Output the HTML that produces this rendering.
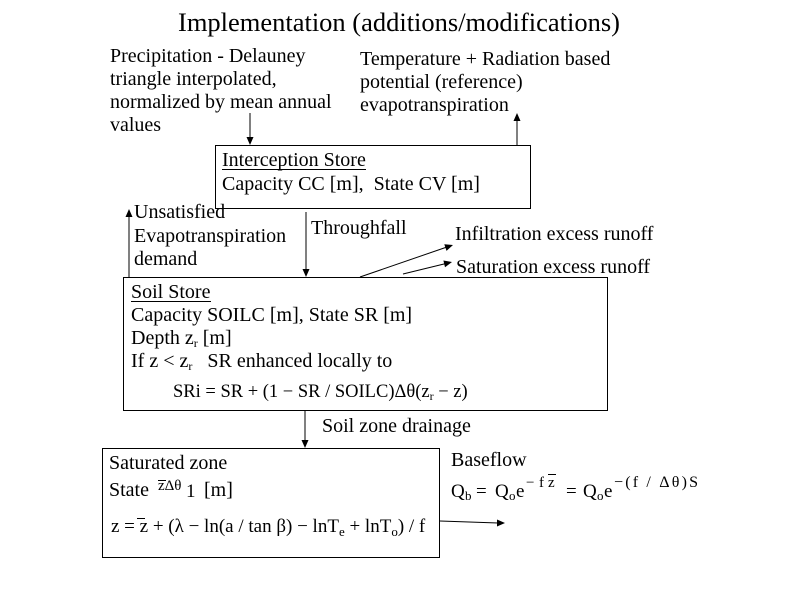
<!DOCTYPE html>
<html>
<head>
<meta charset="utf-8">
<style>
  html,body{margin:0;padding:0;background:#fff;}
  svg{display:block;}
  text{font-family:"Liberation Serif","DejaVu Serif",serif;fill:#000;}
</style>
</head>
<body>
<svg width="800" height="600" viewBox="0 0 800 600" xmlns="http://www.w3.org/2000/svg">
  <rect x="0" y="0" width="800" height="600" fill="#fff"/>

  <!-- Title -->
  <text x="178" y="31" font-size="26" textLength="442" lengthAdjust="spacingAndGlyphs">Implementation (additions/modifications)</text>

  <!-- Precipitation text -->
  <g font-size="20">
    <text x="110" y="62">Precipitation - Delauney</text>
    <text x="110" y="85">triangle interpolated,</text>
    <text x="110" y="108">normalized by mean annual</text>
    <text x="110" y="131">values</text>

    <text x="360" y="65">Temperature + Radiation based</text>
    <text x="360" y="88">potential (reference)</text>
    <text x="360" y="111">evapotranspiration</text>
  </g>

  <!-- Arrows top -->
  <line x1="250" y1="113" x2="250" y2="138" stroke="#000" stroke-width="1"/>
  <polygon points="246.5,137 253.5,137 250,145" fill="#000"/>
  <line x1="517" y1="145" x2="517" y2="120" stroke="#000" stroke-width="1"/>
  <polygon points="513.5,121 520.5,121 517,113" fill="#000"/>

  <!-- Interception box -->
  <rect x="215.5" y="145.5" width="315" height="63" fill="none" stroke="#000" stroke-width="1"/>
  <g font-size="20">
    <text x="222" y="166">Interception Store</text>
    <text x="222" y="190" xml:space="preserve">Capacity CC [m],  State CV [m]</text>
  </g>
  <line x1="222" y1="169.5" x2="366" y2="169.5" stroke="#000" stroke-width="1"/>

  <!-- Unsatisfied ET -->
  <line x1="129" y1="278" x2="129" y2="216" stroke="#000" stroke-width="1"/>
  <polygon points="125.5,217 132.5,217 129,209" fill="#000"/>
  <g font-size="20">
    <text x="134" y="218">Unsatisfied</text>
    <text x="134" y="242">Evapotranspiration</text>
    <text x="134" y="265">demand</text>
  </g>

  <!-- Throughfall -->
  <line x1="306" y1="212" x2="306" y2="270" stroke="#000" stroke-width="1"/>
  <polygon points="302.5,269 309.5,269 306,277" fill="#000"/>
  <text x="311" y="234" font-size="20">Throughfall</text>

  <!-- Runoff arrows -->
  <line x1="360" y1="277" x2="447" y2="247" stroke="#000" stroke-width="1"/>
  <polygon points="446.5,250.9 444.3,244.3 453,245" fill="#000"/>
  <line x1="403" y1="274" x2="446" y2="263.5" stroke="#000" stroke-width="1"/>
  <polygon points="445,267.3 443.4,260.5 452,262" fill="#000"/>
  <g font-size="20">
    <text x="455" y="240">Infiltration excess runoff</text>
    <text x="456" y="273">Saturation excess runoff</text>
  </g>

  <!-- Soil box -->
  <rect x="123.5" y="277.5" width="484" height="133" fill="none" stroke="#000" stroke-width="1"/>
  <g font-size="20">
    <text x="131" y="298">Soil Store</text>
    <text x="131" y="321">Capacity SOILC [m], State SR [m]</text>
    <text x="131" y="344">Depth z<tspan font-size="12" dy="3">r</tspan><tspan dy="-3"> [m]</tspan></text>
    <text x="131" y="367" xml:space="preserve">If z &lt; z<tspan font-size="12" dy="3">r</tspan><tspan dy="-3">   SR enhanced locally to</tspan></text>
  </g>
  <line x1="131" y1="301.5" x2="211" y2="301.5" stroke="#000" stroke-width="1"/>

  <!-- SRi formula -->
  <text x="173" y="397" font-size="18.5" xml:space="preserve">SRi = SR + (1 − SR / SOILC)Δθ(z<tspan font-size="12" dy="3">r</tspan><tspan dy="-3"> − z)</tspan></text>

  <!-- Drainage -->
  <line x1="305" y1="411" x2="305" y2="441" stroke="#000" stroke-width="1"/>
  <polygon points="301.5,440 308.5,440 305,448" fill="#000"/>
  <text x="322" y="432" font-size="20">Soil zone drainage</text>

  <!-- Saturated box -->
  <rect x="102.5" y="448.5" width="337" height="109" fill="none" stroke="#000" stroke-width="1"/>
  <g font-size="20">
    <text x="109" y="469">Saturated zone</text>
    <text x="109" y="496">State</text>
    <text x="158" y="490" font-size="15">zΔθ</text>
    <text x="186" y="497" font-size="19">1</text>
    <text x="204" y="496">[m]</text>
  </g>
  <line x1="158" y1="480.5" x2="166" y2="480.5" stroke="#000" stroke-width="1"/>

  <!-- z formula -->
  <text x="111" y="532" font-size="19" xml:space="preserve">z = z + (λ − ln(a / tan β) − lnT<tspan font-size="13" dy="4">e</tspan><tspan dy="-4"> + lnT</tspan><tspan font-size="13" dy="4">o</tspan><tspan dy="-4">) / f</tspan></text>
  <line x1="137" y1="518.5" x2="145" y2="518.5" stroke="#000" stroke-width="1"/>

  <!-- Baseflow arrow -->
  <line x1="440" y1="521" x2="498" y2="523" stroke="#000" stroke-width="1"/>
  <polygon points="497,519.5 497,526.5 505,523" fill="#000"/>

  <!-- Baseflow -->
  <text x="451" y="466" font-size="20">Baseflow</text>
  <g font-size="19">
    <text x="451" y="497">Q</text>
    <text x="465" y="500" font-size="13">b</text>
    <text x="476" y="497">=</text>
    <text x="495" y="497">Q</text>
    <text x="509" y="500" font-size="13">o</text>
    <text x="516" y="497">e</text>
    <text x="526" y="487" font-size="15">−</text>
    <text x="539" y="487" font-size="15">f</text>
    <text x="548" y="487" font-size="15">z</text>
    <text x="566" y="497">=</text>
    <text x="583" y="497">Q</text>
    <text x="597" y="500" font-size="13">o</text>
    <text x="604" y="497">e</text>
    <text x="614" y="487" font-size="16" textLength="84" lengthAdjust="spacing">−(f / Δθ)S</text>
  </g>
  <line x1="548" y1="474.5" x2="556" y2="474.5" stroke="#000" stroke-width="1"/>
</svg>
</body>
</html>
